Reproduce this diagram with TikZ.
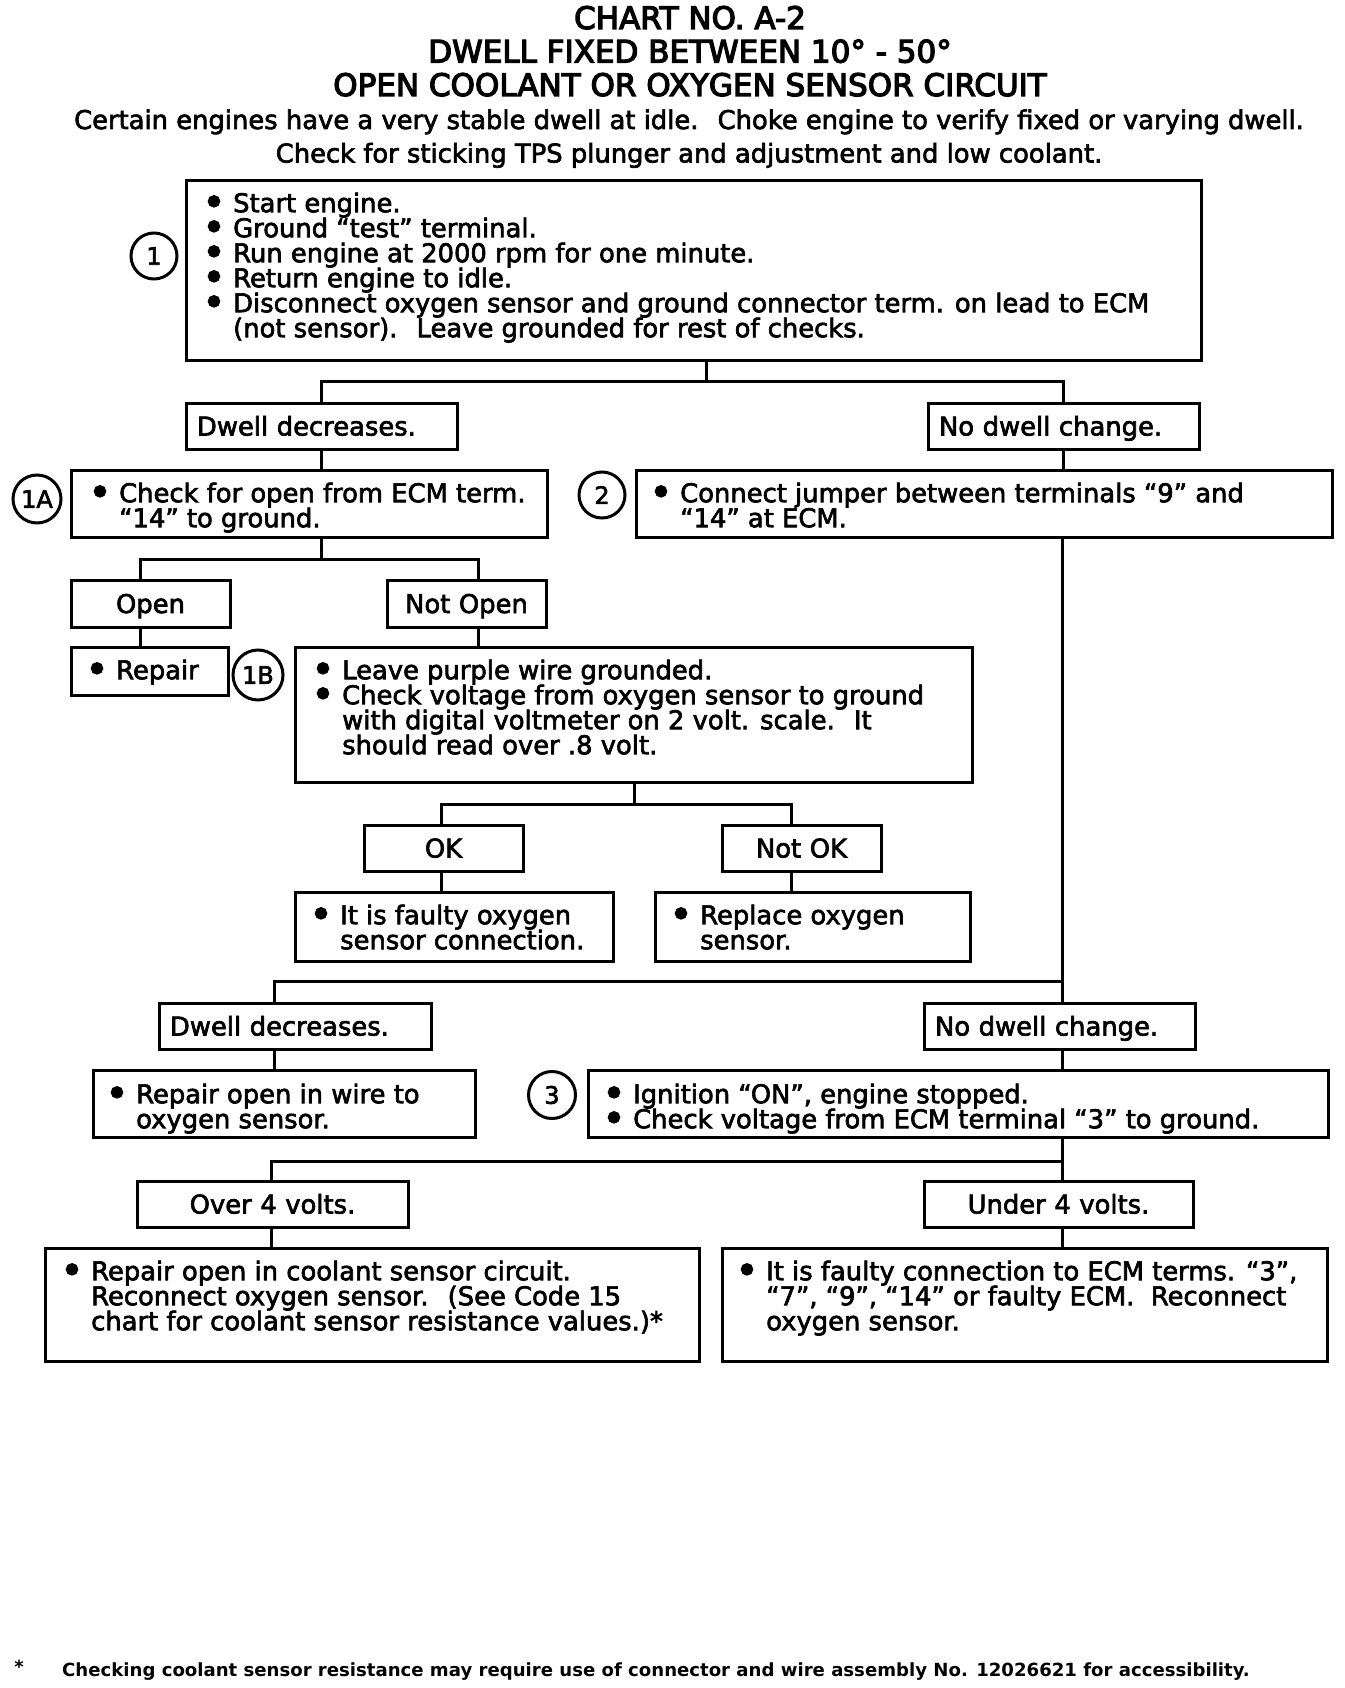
\documentclass[tikz,border=0pt]{standalone}
\usepackage{fontspec}
\setmainfont{DejaVu Sans}
\newfontfamily\heavy{DejaVu Sans}[FakeBold=2.5]
\newfontfamily\heavyt{DejaVu Sans}[FakeBold=4]
\newcommand\bodyf{\heavy\fontsize{25.8pt}{25pt}\selectfont\lineskiplimit=-100pt\lineskip=0pt\relax}
\newcommand\titlef{\heavyt\fontsize{31pt}{33.5pt}\selectfont}
\newcommand\circf{\heavy\fontsize{24pt}{24pt}\selectfont}
\newcommand\footf{\fontsize{18.1pt}{18pt}\selectfont\bfseries}
\newcommand\bul{\makebox[31pt][l]{\raisebox{-4pt}{\fontsize{40pt}{25pt}\selectfont •}}}
\newcommand\ind{\hspace*{31pt}}
\newcommand\fr{\rule{0pt}{21pt}}
\tikzset{
  box/.style={draw, line width=3pt, inner sep=0pt},
  lbl/.style={box, text height=24pt, text depth=5pt, font=\bodyf, inner ysep=0pt, inner xsep=11pt},
  conn/.style={line width=3pt},
  btxt/.style={anchor=north west, inner sep=0pt, align=left, font=\bodyf},
  num/.style={circle, draw, line width=3pt, inner sep=0pt, font=\circf},
}
\begin{document}
\begin{tikzpicture}[x=1pt, y=-1pt]
\fill[white] (0,0) rectangle (1344,1688);
\useasboundingbox (0,0) rectangle (1344,1688);

% titles
\node[anchor=base, font=\titlef, inner sep=0pt] (t1) at (690,29) {CHART NO. A-2};
\node[anchor=base, font=\titlef, inner sep=0pt] (t2) at (690,62.5) {DWELL FIXED BETWEEN 10° - 50°};
\node[anchor=base, font=\titlef, inner sep=0pt] (t3) at (690,96) {OPEN COOLANT OR OXYGEN SENSOR CIRCUIT};
\node[anchor=base, font=\bodyf, inner sep=0pt] (s1) at (689,129) {Certain engines have a very stable dwell at idle.~ Choke engine to verify fixed or varying dwell.};
\node[anchor=base, font=\bodyf, inner sep=0pt] (s2) at (689,162.5) {Check for sticking TPS plunger and adjustment and low coolant.};

% boxes
\node[box, minimum width=1015, minimum height=179] (b1) at (693.5,270.5) {};
\node[lbl, align=left, text width=249, minimum height=46] (dd1) at (321.5,426) {Dwell decreases.};
\node[lbl, align=left, text width=249, minimum height=46] (nd1) at (1063.5,426) {No dwell change.};
\node[box, minimum width=476, minimum height=67] (b1a) at (309,503.5) {};
\node[box, minimum width=696, minimum height=67] (b2) at (984,503.5) {};
\node[lbl, align=center, text width=137, minimum height=47] (open) at (150.5,603.5) {Open};
\node[lbl, align=center, text width=137, minimum height=47] (notopen) at (466.5,603.5) {Not Open};
\node[box, minimum width=157, minimum height=48] (repair) at (149.5,671) {};
\node[box, minimum width=677, minimum height=135] (b1b) at (633.5,714.5) {};
\node[lbl, align=center, text width=137, minimum height=46] (ok) at (443.5,848) {OK};
\node[lbl, align=center, text width=137, minimum height=46] (notok) at (801.5,848) {Not OK};
\node[box, minimum width=318, minimum height=69] (faulty) at (454,926.5) {};
\node[box, minimum width=315, minimum height=69] (replace) at (812.5,926.5) {};
\node[lbl, align=left, text width=250, minimum height=46] (dd2) at (295,1026) {Dwell decreases.};
\node[lbl, align=left, text width=249, minimum height=46] (nd2) at (1059.5,1026) {No dwell change.};
\node[box, minimum width=382, minimum height=67] (repwire) at (284,1103.5) {};
\node[box, minimum width=740, minimum height=67] (b3) at (958,1103.5) {};
\node[lbl, align=center, text width=249, minimum height=46] (over) at (272.5,1204) {Over 4 volts.};
\node[lbl, align=center, text width=247, minimum height=46] (under) at (1058.5,1204) {Under 4 volts.};
\node[box, minimum width=654, minimum height=113] (coolant) at (372,1304.5) {};
\node[box, minimum width=605, minimum height=113] (faultconn) at (1024.5,1304.5) {};

% numbered circles
\node[num, minimum size=46] (c1) at (154,256) {1};
\node[num, minimum size=48] (c1a) at (37,499) {1A};
\node[num, minimum size=46] (c2) at (602,495) {2};
\node[num, minimum size=50] (c1b) at (258,675) {1B};
\node[num, minimum size=47] (c3) at (552,1095) {3};

% box texts
\node[btxt] (tb1) at (202,191) {\fr\bul Start engine.\\
\bul Ground “test” terminal.\\
\bul Run engine at 2000 rpm for one minute.\\
\bul Return engine to idle.\\
\bul Disconnect oxygen sensor and ground connector term. on lead to ECM\\
\ind(not sensor).~ Leave grounded for rest of checks.};
\node[btxt] (tb1a) at (88,481) {\fr\bul Check for open from ECM term.\\
\ind“14” to ground.};
\node[btxt] (tb2) at (649,481) {\fr\bul Connect jumper between terminals “9” and\\
\ind“14” at ECM.};
\node[btxt] (trepair) at (85,658) {\fr\bul Repair};
\node[btxt] (tb1b) at (311,658) {\fr\bul Leave purple wire grounded.\\
\bul Check voltage from oxygen sensor to ground\\
\ind with digital voltmeter on 2 volt. scale.~ It\\
\ind should read over .8 volt.};
\node[btxt] (tfaulty) at (309,903) {\fr\bul It is faulty oxygen\\
\ind sensor connection.};
\node[btxt] (treplace) at (669,903) {\fr\bul Replace oxygen\\
\ind sensor.};
\node[btxt] (trepwire) at (105,1082) {\fr\bul Repair open in wire to\\
\ind oxygen sensor.};
\node[btxt] (tb3) at (602,1082) {\fr\bul Ignition “ON”, engine stopped.\\
\bul Check voltage from ECM terminal “3” to ground.};
\node[btxt] (tcoolant) at (60,1259) {\fr\bul Repair open in coolant sensor circuit.\\
\ind Reconnect oxygen sensor.~ (See Code 15\\
\ind chart for coolant sensor resistance values.)*};
\node[btxt] (tfaultconn) at (735,1259) {\fr\bul It is faulty connection to ECM terms. “3”,\\
\ind“7”, “9”, “14” or faulty ECM.~ Reconnect\\
\ind oxygen sensor.};

% junctions
\coordinate (j1) at (706,381);
\coordinate (j2) at (321,559);
\coordinate (j2l) at (140,559);
\coordinate (j2r) at (478,559);
\coordinate (j3) at (634,804);
\coordinate (j3l) at (441,804);
\coordinate (j3r) at (791,804);
\coordinate (j4) at (1062,981);
\coordinate (j4l) at (274,981);
\coordinate (j5) at (1062,1161);
\coordinate (j5l) at (271,1161);

% connectors
\draw[conn] (b1.south -| j1) -- (j1);
\draw[conn] (dd1.north) |- (j1) -| (nd1.north);
\draw[conn] (dd1.south) -- (dd1.south |- b1a.north);
\draw[conn] (nd1.south) -- (nd1.south |- b2.north);
\draw[conn] (b1a.south -| j2) -- (j2);
\draw[conn] (open.north -| j2l) -- (j2l) -- (j2r) -- (notopen.north -| j2r);
\draw[conn] (open.south -| j2l) -- (repair.north -| j2l);
\draw[conn] (notopen.south -| j2r) -- (b1b.north -| j2r);
\draw[conn] (b1b.south -| j3) -- (j3);
\draw[conn] (ok.north -| j3l) -- (j3l) -- (j3r) -- (notok.north -| j3r);
\draw[conn] (ok.south -| j3l) -- (faulty.north -| j3l);
\draw[conn] (notok.south -| j3r) -- (replace.north -| j3r);
\draw[conn] (b2.south -| j4) -- (nd2.north -| j4);
\draw[conn] (j4) -- (j4l) -- (dd2.north -| j4l);
\draw[conn] (dd2.south -| j4l) -- (repwire.north -| j4l);
\draw[conn] (nd2.south -| j4) -- (b3.north -| j4);
\draw[conn] (b3.south -| j5) -- (j5);
\draw[conn] (over.north -| j5l) -- (j5l) -- (j5) -- (under.north -| j5);
\draw[conn] (over.south -| j5l) -- (coolant.north -| j5l);
\draw[conn] (under.south -| j5) -- (faultconn.north -| j5);

% footnote
\node[font=\footf, inner sep=0pt] (star) at (19,1667) {*};
\node[anchor=base west, font=\footf, inner sep=0pt] (foot) at (62,1676) {Checking coolant sensor resistance may require use of connector and wire assembly No. 12026621 for accessibility.};
\end{tikzpicture}
\end{document}
